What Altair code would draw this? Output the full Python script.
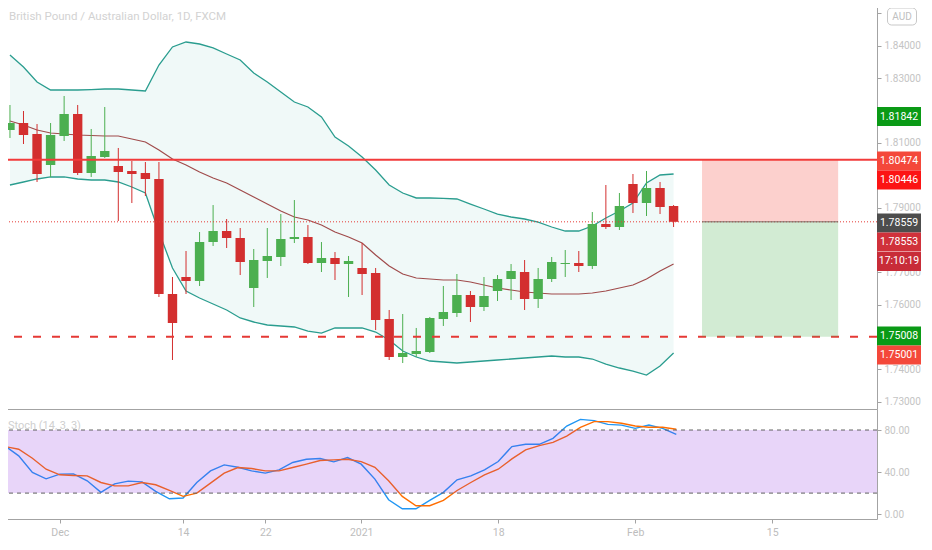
import altair as alt
import pandas as pd

# ---------------- data ----------------
bar_idx = list(range(50))
opens = [1.81397, 1.81613, 1.81273, 1.80315, 1.81212, 1.81891, 1.80068, 1.80563, 1.80285, 1.80130,
         1.80068, 1.79883, 1.76328, 1.76854, 1.76730, 1.77935, 1.78275, 1.78059, 1.76514, 1.77348,
         1.77472, 1.78028, 1.78090, 1.77286, 1.77441, 1.77255, 1.77132, 1.76977, 1.75556, 1.74381,
         1.74473, 1.74535, 1.75556, 1.75741, 1.76297, 1.75927, 1.76421, 1.76792, 1.77008, 1.76174,
         1.76792, 1.77255, 1.77286, 1.77194, 1.78491, 1.78399, 1.79728, 1.79140, 1.79605, 1.79048]
highs = [1.82170, 1.81984, 1.81582, 1.81613, 1.82448, 1.82170, 1.81428, 1.82108, 1.80841, 1.80439,
         1.80408, 1.80408, 1.76854, 1.77657, 1.78244, 1.79078, 1.78646, 1.78368, 1.77719, 1.78368,
         1.78800, 1.79233, 1.78460, 1.77935, 1.77626, 1.77503, 1.77904, 1.77132, 1.75834, 1.75710,
         1.75278, 1.75618, 1.76576, 1.76946, 1.76421, 1.76854, 1.76915, 1.77255, 1.77379, 1.77132,
         1.77472, 1.77688, 1.77657, 1.78862, 1.79697, 1.79450, 1.80037, 1.80130, 1.79790, 1.79078]
lows = [1.81150, 1.80964, 1.79790, 1.79945, 1.81057, 1.80006, 1.79945, 1.80532, 1.78584, 1.79140,
        1.79358, 1.76236, 1.74288, 1.76328, 1.76576, 1.77812, 1.77750, 1.76915, 1.75927, 1.76823,
        1.77194, 1.77904, 1.77255, 1.77008, 1.76761, 1.76236, 1.76297, 1.75215, 1.74288, 1.74195,
        1.74381, 1.74504, 1.75340, 1.75618, 1.75463, 1.75803, 1.76112, 1.76143, 1.75834, 1.75896,
        1.76699, 1.76854, 1.77008, 1.77101, 1.78337, 1.78306, 1.78831, 1.78739, 1.78800, 1.78399]
closes = [1.81613, 1.81242, 1.80037, 1.81242, 1.81891, 1.80068, 1.80594, 1.80748, 1.80099, 1.80037,
          1.79883, 1.76328, 1.75432, 1.76730, 1.77935, 1.78275, 1.78059, 1.77317, 1.77379, 1.77503,
          1.78028, 1.78090, 1.77286, 1.77441, 1.77255, 1.77348, 1.76946, 1.75525, 1.74381, 1.74504,
          1.74566, 1.75587, 1.75772, 1.76297, 1.75927, 1.76267, 1.76792, 1.77039, 1.76174, 1.76792,
          1.77317, 1.77286, 1.77194, 1.78491, 1.78399, 1.79048, 1.79140, 1.79605, 1.79017, 1.78559]

bb_upper = [1.83715, 1.83345, 1.82880, 1.82633, 1.82633, 1.82633, 1.82648, 1.82664, 1.82664, 1.82633,
            1.82602, 1.83406, 1.83963, 1.84117, 1.84055, 1.83932, 1.83746, 1.83561, 1.83159, 1.82880,
            1.82571, 1.82262, 1.82108, 1.81799, 1.81181, 1.80903, 1.80563, 1.80161, 1.79697, 1.79450,
            1.79296, 1.79296, 1.79281, 1.79265, 1.79109, 1.78955, 1.78800, 1.78708, 1.78646, 1.78553,
            1.78399, 1.78275, 1.78275, 1.78430, 1.78677, 1.78893, 1.79140, 1.79759, 1.80006, 1.80037]
bb_mid = [1.81675, 1.81551, 1.81397, 1.81304, 1.81273, 1.81242, 1.81227, 1.81212, 1.81212, 1.81119,
          1.81026, 1.80779, 1.80501, 1.80315, 1.80099, 1.79914, 1.79759, 1.79543, 1.79327, 1.79109,
          1.78893, 1.78708, 1.78615, 1.78460, 1.78244, 1.78090, 1.77904, 1.77533, 1.77194, 1.76946,
          1.76823, 1.76792, 1.76761, 1.76761, 1.76699, 1.76606, 1.76514, 1.76452, 1.76390, 1.76359,
          1.76328, 1.76328, 1.76328, 1.76359, 1.76421, 1.76514, 1.76606, 1.76792, 1.77039, 1.77255]
bb_lower = [1.79697, 1.79790, 1.79883, 1.79945, 1.79945, 1.79883, 1.79852, 1.79852, 1.79790, 1.79636,
            1.79450, 1.78244, 1.77132, 1.76421, 1.76205, 1.76019, 1.75834, 1.75587, 1.75463, 1.75370,
            1.75340, 1.75309, 1.75184, 1.75122, 1.75278, 1.75278, 1.75278, 1.75153, 1.74906, 1.74566,
            1.74381, 1.74257, 1.74226, 1.74195, 1.74226, 1.74257, 1.74288, 1.74319, 1.74350, 1.74381,
            1.74412, 1.74381, 1.74381, 1.74319, 1.74164, 1.74041, 1.73948, 1.73824, 1.74102, 1.74504]

stoch_k = [64.8, 55.4, 39.6, 33.6, 38.0, 38.3, 31.7, 20.7, 28.8, 31.4, 30.7, 21.6, 14.6, 15.3, 30.1,
           41.1, 46.8, 44.6, 41.1, 39.0, 42.1, 49.1, 52.2, 52.9, 49.7, 53.8, 47.5, 33.3, 13.7, 5.1,
           5.1, 13.1, 20.7, 32.6, 36.4, 42.1, 50.0, 64.3, 66.4, 66.4, 72.1, 83.8, 90.1, 88.9, 85.4,
           84.7, 81.6, 84.7, 81.6, 75.9]
stoch_d = [64.3, 61.7, 53.2, 42.7, 37.4, 36.8, 36.4, 30.1, 26.9, 26.9, 30.1, 27.9, 22.5, 16.9, 20.0,
           29.5, 39.0, 44.3, 43.4, 41.1, 41.1, 44.3, 47.5, 51.0, 51.6, 52.2, 50.0, 44.6, 31.7, 16.9,
           8.0, 8.0, 13.1, 22.5, 30.1, 37.4, 42.7, 52.5, 61.1, 65.2, 68.3, 74.3, 82.6, 88.0, 88.0,
           86.4, 83.8, 82.6, 82.6, 80.7]

date_tick_idx = [4, 13, 19, 26, 36, 46, 56]
date_tick_lbl = ["Dec", "14", "22", "2021", "18", "Feb", "15"]
price_ticks = [1.73, 1.74, 1.75, 1.76, 1.77, 1.78, 1.79, 1.80, 1.81, 1.82, 1.83, 1.84, 1.85]
price_ticks_hidden = [1.75, 1.78, 1.80, 1.82, 1.85]   # covered by the price tags in the reference
stoch_ticks = [0, 40, 80]
stoch_levels = [20, 80]

stop_level = 1.80474
entry_level = 1.78559
target_level = 1.75008
pos_start = 51.1
pos_end = 61.15

title_text = "British Pound / Australian Dollar, 1D, FXCM"
stoch_title = "Stoch (14, 3, 3)"

label_text = ["1.81842", "1.80474", "1.80446", "1.78559", "1.78553", "17:10:19", "1.75008", "1.75001"]
label_pos = [1.81814, 1.80439, 1.79852, 1.78522, 1.77935, 1.77333, 1.75030, 1.74442]
label_color = ["#0a9a16", "#f4483a", "#fc1414", "#4d4d4d", "#d0313b", "#c82c38", "#0a9a16", "#f4483a"]
currency_text = ["AUD"]
currency_pos = [1.84905]

# ---------------- styles ----------------
UP = "#4caf50"
DOWN = "#d32f2f"
FONT = "Roboto"
AXIS_GRAY = "#a3a3a3"
LABEL_GRAY = "#c4c4c4"
W = 876
H_MAIN = 409
H_STOCH = 110
TAG_X = 898
TAG_W = 44

candles = pd.DataFrame({"i": bar_idx, "o": opens, "h": highs, "l": lows, "c": closes})
candles["dir"] = ["up" if c >= o else "down" for o, c in zip(opens, closes)]
bands = pd.DataFrame({"i": bar_idx, "up": bb_upper, "mid": bb_mid, "lo": bb_lower})
stoch = pd.DataFrame({"i": bar_idx, "k": stoch_k, "d": stoch_d})

xscale = alt.Scale(domain=[-0.292, 63.65], nice=False, zero=False)
yscale = alt.Scale(domain=[1.72774, 1.85415], nice=False, zero=False)
sscale = alt.Scale(domain=[-4.64, 100.0], nice=False, zero=False)

hidden_expr = " || ".join(f"abs(datum.value - {v}) < 0.0001" for v in price_ticks_hidden)
x_main_axis = alt.Axis(labels=False, ticks=False, domain=True, domainColor=AXIS_GRAY,
                       grid=False, title=None)
y_main_axis = alt.Axis(orient="right", values=price_ticks, format=".5f", labelColor=LABEL_GRAY,
                       labelExpr=f"({hidden_expr}) ? '' : datum.label",
                       labelFont=FONT, labelFontSize=10, tickSize=4, tickColor=AXIS_GRAY,
                       domainColor=AXIS_GRAY, grid=False, title=None, labelPadding=3)


def X(field):
    return alt.X(field, type="quantitative", scale=xscale, axis=x_main_axis)


def Y(field):
    return alt.Y(field, type="quantitative", scale=yscale, axis=y_main_axis)


color_dir = alt.Color("dir:N", scale=alt.Scale(domain=["up", "down"], range=[UP, DOWN]), legend=None)

band_area = alt.Chart(bands).mark_area(color="#26a69a", opacity=0.07).encode(
    x=X("i"), y=Y("up"), y2="lo")
band_up = alt.Chart(bands).mark_line(color="#2a9d8f", strokeWidth=1.3).encode(x=X("i"), y=Y("up"))
band_lo = alt.Chart(bands).mark_line(color="#2a9d8f", strokeWidth=1.3).encode(x=X("i"), y=Y("lo"))
band_mid = alt.Chart(bands).mark_line(color="#a04b4b", strokeWidth=1.2).encode(x=X("i"), y=Y("mid"))

wicks = alt.Chart(candles).mark_rule(strokeWidth=1).encode(x=X("i"), y=Y("l"), y2="h", color=color_dir)
bodies = alt.Chart(candles).mark_bar(width=9.4).encode(x=X("i"), y=Y("o"), y2="c", color=color_dir)

lv = pd.DataFrame({"v": [stop_level]})
stop_line = alt.Chart(lv).mark_rule(color="#f23b3b", strokeWidth=2).encode(y=Y("v"))
tv = pd.DataFrame({"v": [target_level]})
target_line = alt.Chart(tv).mark_rule(color="#e53935", strokeWidth=2, strokeDash=[8, 11]).encode(y=Y("v"))
ev = pd.DataFrame({"v": [entry_level]})
price_line = alt.Chart(ev).mark_rule(color="#e53935", strokeWidth=1, strokeDash=[1, 2]).encode(y=Y("v"))

boxes = pd.DataFrame({
    "x0": [pos_start, pos_start], "x1": [pos_end, pos_end],
    "y0": [stop_level, entry_level], "y1": [entry_level, target_level],
    "kind": ["risk", "reward"]})
pos_boxes = alt.Chart(boxes).mark_rect(opacity=0.25).encode(
    x=X("x0"), x2="x1", y=Y("y0"), y2="y1",
    color=alt.Color("kind:N", scale=alt.Scale(domain=["risk", "reward"], range=["#f44336", "#4caf50"]),
                    legend=None))
entry_df = pd.DataFrame({"x0": [pos_start], "x1": [pos_end], "v": [entry_level]})
entry_line = alt.Chart(entry_df).mark_rule(color="#7d6a66", strokeWidth=1).encode(
    x=X("x0"), x2="x1", y=Y("v"))

title_df = pd.DataFrame({"t": [title_text]})
title = alt.Chart(title_df).mark_text(align="left", baseline="middle", font=FONT, fontSize=11.5,
                                      color="#d2d2d2").encode(
    x=alt.value(8), y=alt.value(17), text="t:N")

labels_df = pd.DataFrame({"t": label_text, "p": label_pos, "c": label_color})
label_boxes = alt.Chart(labels_df).mark_tick(orient="horizontal", size=TAG_W, thickness=19, opacity=1).encode(
    x=alt.value(TAG_X), y=Y("p"), color=alt.Color("c:N", scale=None))
label_texts = alt.Chart(labels_df).mark_text(align="center", baseline="middle", font=FONT,
                                             fontSize=10.5, color="white").encode(
    x=alt.value(TAG_X), y=Y("p"), text="t:N")

cur_df = pd.DataFrame({"t": currency_text, "p": currency_pos})
cur_box = alt.Chart(cur_df).mark_tick(orient="horizontal", size=29, thickness=17, fill="white",
                                      stroke="#c8c8c8", strokeWidth=1, cornerRadius=4, opacity=1).encode(
    x=alt.value(901), y=Y("p"))
cur_text = alt.Chart(cur_df).mark_text(align="center", baseline="middle", font=FONT, fontSize=10,
                                       color="#c0c0c0").encode(x=alt.value(901), y=Y("p"), text="t:N")

main = alt.layer(
    band_area, band_up, band_lo, band_mid,
    wicks, bodies,
    price_line, stop_line, target_line,
    pos_boxes, entry_line,
    title, label_boxes, label_texts, cur_box, cur_text
).resolve_scale(color="independent").properties(width=W, height=H_MAIN)

# ---------------- stochastic panel ----------------
label_expr = "".join(f"datum.value == {v} ? '{t}' : " for v, t in zip(date_tick_idx, date_tick_lbl)) + "''"
x_stoch_axis = alt.Axis(values=date_tick_idx, labelExpr=label_expr, labelColor="#bdbdbd", labelFont=FONT,
                        labelFontSize=10.5, tickSize=4, tickColor=AXIS_GRAY, domainColor=AXIS_GRAY,
                        grid=False, title=None, labelPadding=4)
y_stoch_axis = alt.Axis(orient="right", values=stoch_ticks, format=".2f", labelColor=LABEL_GRAY,
                        labelFont=FONT, labelFontSize=10, tickSize=4, tickColor=AXIS_GRAY,
                        domainColor=AXIS_GRAY, grid=False, title=None, labelPadding=3)


def SX(field):
    return alt.X(field, type="quantitative", scale=xscale, axis=x_stoch_axis)


def SY(field):
    return alt.Y(field, type="quantitative", scale=sscale, axis=y_stoch_axis)


k_line = alt.Chart(stoch).mark_line(color="#2196f3", strokeWidth=1.4).encode(x=SX("i"), y=SY("k"))
d_line = alt.Chart(stoch).mark_line(color="#ff6d00", strokeWidth=1.4).encode(x=SX("i"), y=SY("d"))
band_df = pd.DataFrame({"lo": [stoch_levels[0]], "hi": [stoch_levels[1]]})
stoch_band = alt.Chart(band_df).mark_rect(color="#8a2be2", opacity=0.2).encode(y=SY("lo"), y2="hi")
lvl_df = pd.DataFrame({"v": stoch_levels})
stoch_lvls = alt.Chart(lvl_df).mark_rule(color="#606060", strokeWidth=1, strokeDash=[4, 4]).encode(y=SY("v"))
st_df = pd.DataFrame({"t": [stoch_title]})
stoch_txt = alt.Chart(st_df).mark_text(align="left", baseline="middle", font=FONT, fontSize=11,
                                       color="#d0d0d0").encode(x=alt.value(7), y=alt.value(17), text="t:N")

stoch_panel = alt.layer(k_line, d_line, stoch_band, stoch_lvls, stoch_txt).properties(
    width=W, height=H_STOCH)

chart = alt.vconcat(main, stoch_panel, spacing=0).resolve_scale(
    x="independent", y="independent", color="independent"
).properties(padding={"left": -8, "top": -8, "right": 0, "bottom": 0},
             background="white").configure_view(stroke=None)

chart.save("out.html", embed_options={"renderer": "svg", "actions": False})
